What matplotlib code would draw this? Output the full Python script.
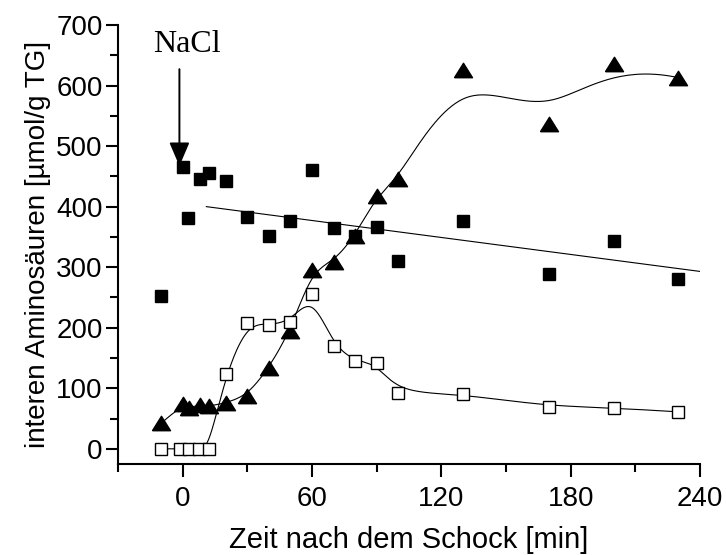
import numpy as np
import matplotlib
matplotlib.use("Agg")
import matplotlib.pyplot as plt
from matplotlib.ticker import MultipleLocator

# Zeit nach dem Schock [min] und interne Aminosäuren [µmol/g TG]
t_filled_sq = [-10, 0, 2.5, 8, 12, 20, 30, 40, 50, 60, 70, 80, 90, 100, 130, 170, 200, 230]
v_filled_sq = [253, 466, 381, 445, 455, 442, 383, 351, 377, 460, 364, 351, 367, 310, 376, 289, 343, 281]

t_tri = [-10, 0, 3, 8, 12, 20, 30, 40, 50, 60, 70, 80, 90, 100, 130, 170, 200, 230]
v_tri = [42, 74, 67, 73, 70, 76, 88, 134, 195, 295, 309, 352, 418, 445, 625, 536, 636, 613]

t_open_sq = [-10, -1, 3, 7.5, 12, 20, 30, 40, 50, 60, 70, 80, 90, 100, 130, 170, 200, 230]
v_open_sq = [0, 0, 0, 0, 0, 124, 207, 205, 210, 255, 170, 145, 141, 92, 91, 69, 68, 61]

# lineare Regression der gefüllten Quadrate
trend_t = [11, 240]
trend_v = [400, 293]


def bspline(xs, ys, n=600, k=3):
    """Clamped uniform B-spline with the data points as control points."""
    P = np.column_stack([xs, ys]).astype(float)
    m = len(P)
    knots = np.concatenate([np.zeros(k), np.arange(m - k + 1), np.full(k, m - k)]).astype(float)
    u = np.linspace(0, m - k, n)
    N = np.zeros((n, len(knots) - 1))
    for i in range(len(knots) - 1):
        if knots[i] < knots[i + 1]:
            N[:, i] = (u >= knots[i]) & (u < knots[i + 1])
    N[-1, m - 1] = 1.0  # u at the very end
    for p in range(1, k + 1):
        Nn = np.zeros((n, len(knots) - p - 1))
        for i in range(len(knots) - p - 1):
            d1 = knots[i + p] - knots[i]
            d2 = knots[i + p + 1] - knots[i + 1]
            a = (u - knots[i]) / d1 * N[:, i] if d1 > 0 else 0
            b = (knots[i + p + 1] - u) / d2 * N[:, i + 1] if d2 > 0 else 0
            Nn[:, i] = a + b
        N = Nn
    C = N @ P
    return C[:, 0], C[:, 1]


fig = plt.figure(figsize=(7.26, 5.55), dpi=100)
ax = fig.add_axes([0.1625, 0.164, 0.8017, 0.791])

tri_marker = [(-1, -0.8), (1, -0.8), (0, 0.8), (-1, -0.8)]

cx, cy = bspline(t_tri, v_tri)
ax.plot(cx, cy, color="black", lw=0.8, zorder=2)
ax.plot(t_tri, v_tri, ls="none", marker=tri_marker, ms=13, color="black", zorder=3)

cx, cy = bspline(t_open_sq, v_open_sq)
ax.plot(cx, cy, color="black", lw=0.8, zorder=2)
ax.plot(t_open_sq, v_open_sq, ls="none", marker="s", ms=8.5, mfc="white",
        mec="black", mew=1.0, zorder=4)

ax.plot(trend_t, trend_v, color="black", lw=0.8, zorder=2)
ax.plot(t_filled_sq, v_filled_sq, ls="none", marker="s", ms=9, color="black", zorder=5)

# Zugabe von NaCl
ax.annotate("", xy=(-1.5, 467), xytext=(-1.5, 627),
            arrowprops=dict(arrowstyle="-|>,head_length=1.45,head_width=0.62",
                            color="black", lw=1.4, shrinkA=0, shrinkB=0))
ax.text(2, 655, "NaCl", family="Liberation Serif", fontsize=23, ha="center", va="baseline")

ax.set_xlim(-30, 240)
ax.set_ylim(-25, 700)
ax.xaxis.set_major_locator(MultipleLocator(60))
ax.xaxis.set_minor_locator(MultipleLocator(30))
ax.yaxis.set_major_locator(MultipleLocator(100))
ax.yaxis.set_minor_locator(MultipleLocator(50))

for s in ("top", "right"):
    ax.spines[s].set_visible(False)
for s in ("left", "bottom"):
    ax.spines[s].set_linewidth(1.5)

ax.tick_params(which="major", length=9, width=1.5, labelsize=20)
ax.tick_params(which="minor", length=6, width=1.5)
ax.tick_params(axis="x", which="major", pad=7)
ax.tick_params(axis="y", which="major", pad=2)
for lab in ax.get_xticklabels() + ax.get_yticklabels():
    lab.set_family("Liberation Sans")

fig.text(0.5634, 1 - 548 / 555, "Zeit nach dem Schock [min]", family="Liberation Sans",
         fontsize=21, ha="center", va="baseline")
ax.set_ylabel("interen Aminosäuren [µmol/g TG]", family="Liberation Sans", fontsize=20, labelpad=4)

fig.savefig("out.png", dpi=100)
